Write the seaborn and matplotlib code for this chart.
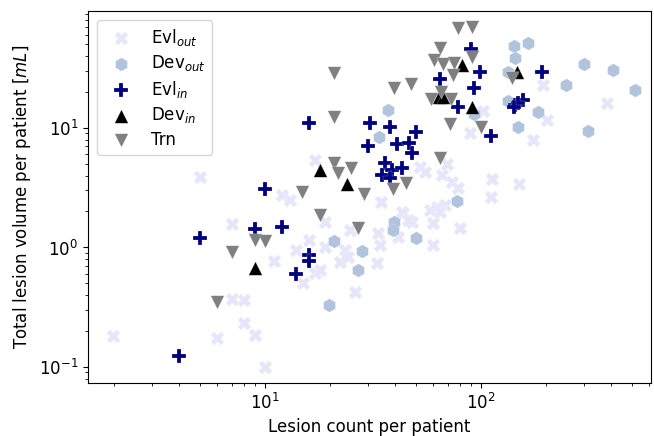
import matplotlib
matplotlib.use("Agg")
import matplotlib.pyplot as plt
import seaborn as sns
import pandas as pd

# ---- data (lesion count, total volume mL) ----
evl_out_x = [1.98, 5.0, 6.0, 7.0, 7.0, 8.0, 8.0, 9.0, 10.0, 11.0, 12.0, 13.05, 17.0, 18.9, 16.0,
             13.9, 18.9, 23.5, 22.3, 24.2, 17.0, 18.0, 15.0, 26.1, 33.4, 34.1, 33.0, 24.8, 41.3,
             43.5, 47.9, 59.9, 59.9, 79.9, 62.6, 68.1, 34.4, 43.1, 45.9, 58.1, 64.6, 111, 52.2,
             55.0, 69.6, 66.0, 73.4, 78.3, 112, 150, 102, 88.9, 194, 202, 174, 383]
evl_out_y = [0.182, 3.89, 0.175, 1.57, 0.37, 0.36, 0.233, 0.185, 0.10, 0.77, 2.75, 2.5, 5.40, 1.63, 1.16,
             0.95, 1.01, 0.95, 0.76, 0.83, 0.61, 0.65, 0.50, 0.42, 1.32, 1.05, 0.74, 1.40, 1.22,
             1.95, 1.63, 1.60, 1.05, 1.46, 2.18, 2.27, 2.40, 1.98, 1.70, 2.06, 1.98, 2.65, 4.72,
             4.28, 5.0, 4.04, 3.53, 3.15, 3.74, 3.40, 13.9, 9.08, 22.9, 11.7, 7.94, 16.2]

dev_out_x = [37.1, 33.7, 142, 165, 144, 133, 300, 408, 247, 516, 133, 184, 148, 313, 92.8,
             77.4, 39.6, 39.2, 50.0, 20.9, 28.1, 27.0, 19.8]
dev_out_y = [14.2, 8.41, 48.5, 51.4, 38.5, 29.4, 34.3, 30.6, 22.9, 20.8, 16.8, 13.6, 10.2, 9.44, 13.1,
             2.45, 1.63, 1.40, 1.20, 1.13, 0.94, 0.65, 0.33]

evl_in_x = [16.0, 30.6, 37.9, 50.0, 30.0, 40.8, 46.4, 47.9, 35.9, 38.7, 43.1, 34.8, 37.9, 10.0,
            9.0, 12.0, 5.0, 16.0, 16.0, 13.9, 4.0, 89.9, 98.9, 64.6, 92.8, 78.3, 111, 192,
            144, 157, 148, 142]
evl_in_y = [11.0, 11.0, 10.2, 9.26, 7.07, 7.35, 7.49, 6.18, 5.09, 4.45, 4.63, 4.04, 3.82, 3.09,
            1.43, 1.49, 1.20, 0.86, 0.77, 0.60, 0.124, 45.8, 29.4, 25.7, 21.6, 15.0, 8.57, 29.4,
            15.6, 17.1, 16.2, 15.0]

dev_in_x = [18.0, 24.0, 9.0, 63.9, 66.7, 81.7, 90.9, 147]
dev_in_y = [4.45, 3.40, 0.67, 18.2, 18.2, 33.7, 15.0, 29.4]

trn_x = [20.9, 20.9, 20.9, 21.8, 25.0, 28.7, 14.8, 18.0, 9.0, 10.0, 7.0, 6.0, 27.0, 39.2, 45.0,
         64.6, 39.6, 47.4, 58.7, 72.6, 65.3, 64.6, 60.6, 66.7, 75.0, 74.2, 90.9, 78.3, 90.9,
         71.9, 100, 139]
trn_y = [28.9, 12.4, 5.09, 4.2, 4.63, 2.80, 2.91, 1.87, 1.16, 1.13, 0.92, 0.35, 1.46, 3.09, 3.46,
         5.61, 21.6, 23.3, 17.5, 17.5, 20.0, 46.7, 37.1, 34.3, 35.0, 27.8, 39.3, 68.7, 70.0,
         10.8, 10.2, 26.2]

labels = [r"Evl$_{out}$", r"Dev$_{out}$", r"Evl$_{in}$", r"Dev$_{in}$", "Trn"]
colors = ["lavender", "lightsteelblue", "navy", "black", "gray"]
markers = ["X", "h", "P", "^", "v"]

series = [(evl_out_x, evl_out_y), (dev_out_x, dev_out_y), (evl_in_x, evl_in_y),
          (dev_in_x, dev_in_y), (trn_x, trn_y)]

fig, ax = plt.subplots(figsize=(6.54, 4.36), dpi=100)
fig.subplots_adjust(left=0.1346, right=0.9954, top=0.9748, bottom=0.1216)

for (xs, ys), lab, col, mk in zip(series, labels, colors, markers):
    df = pd.DataFrame({"count": xs, "volume": ys})
    sns.scatterplot(data=df, x="count", y="volume", color=col, marker=mk, s=95,
                    label=lab, ax=ax, edgecolor="white", linewidth=0.15)

ax.set_xscale("log")
ax.set_yscale("log")
ax.set_xlim(1.516, 612)
ax.set_ylim(0.0734, 95.3)
ax.set_xlabel("Lesion count per patient", fontsize=12)
ax.set_ylabel(r"Total lesion volume per patient [$mL$]", fontsize=12)
ax.tick_params(axis="both", which="major", labelsize=12)
ax.legend(loc="upper left", fontsize=12, labelspacing=0.33, borderaxespad=0.55)

fig.savefig("out.png", dpi=100)
